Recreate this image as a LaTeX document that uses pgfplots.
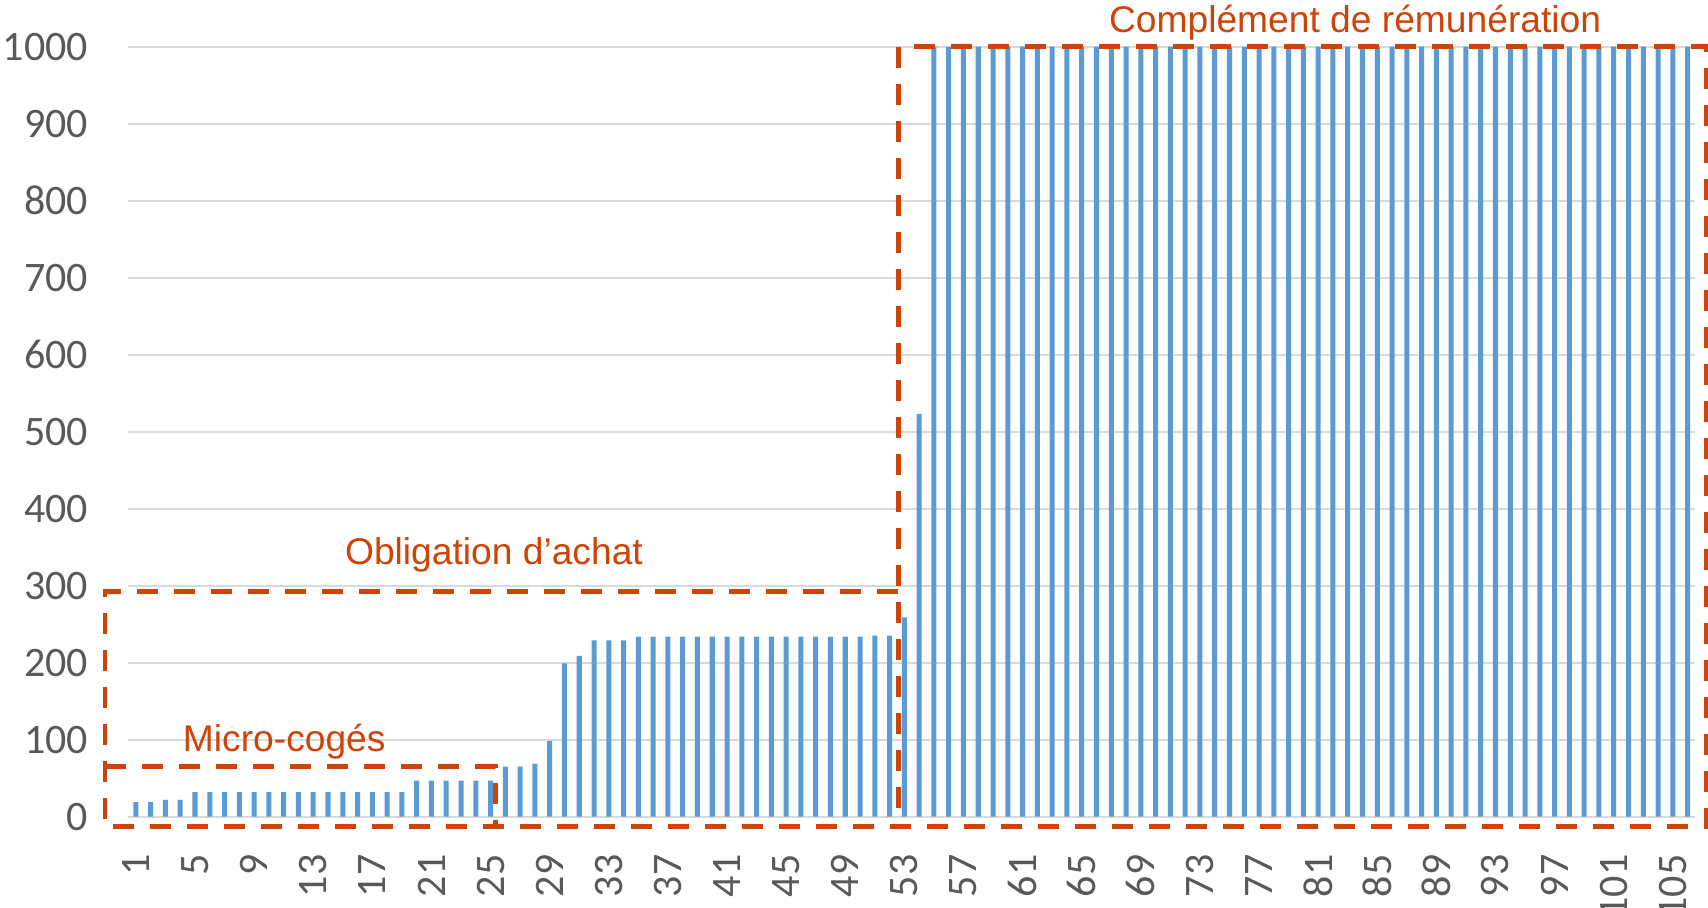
\documentclass[border=0pt]{standalone}
\usepackage{fontspec}
\setmainfont{Carlito}
\newfontfamily\arialf{Liberation Sans}
\usepackage{pgfplots}
\pgfplotsset{compat=1.18}
\definecolor{cBar}{HTML}{5B9BD5}
\definecolor{cRed}{HTML}{CC4408}
\definecolor{cTick}{HTML}{595959}
\definecolor{cGrid}{HTML}{D9D9D9}
\begin{document}
\begin{tikzpicture}
\begin{axis}[
    at={(64.25pt,45.65pt)}, anchor=south west,
    scale only axis, width=783.25pt, height=385pt,
    xmin=0.5, xmax=106.5, ymin=0, ymax=1000,
    clip=false,
    axis line style={draw=none}, tick style={draw=none},
    ymajorgrids, grid style={cGrid, line width=1.1pt},
    ytick={0,100,...,1000},
    xtick={1,5,...,105},
    ticklabel style={font=\fontsize{21}{24}\selectfont, text=cTick, inner sep=0pt,
        /pgf/number format/assume math mode=true},
    yticklabel style={/pgf/number format/1000 sep={}},
    xticklabel style={rotate=90, anchor=east},
    xticklabel shift=14.5pt, yticklabel shift=20pt,
    ybar, bar width=0.34,
]
\addplot[fill=cBar, draw=none] coordinates {
(1,19) (2,19) (3,22) (4,22)
(5,32) (6,32) (7,32) (8,32) (9,32) (10,32) (11,32) (12,32) (13,32) (14,32)
(15,32) (16,32) (17,32) (18,32) (19,32)
(20,47) (21,47) (22,47) (23,47) (24,47) (25,47)
(26,65) (27,65) (28,69) (29,98) (30,199) (31,209) (32,229) (33,229) (34,229)
(35,234) (36,234) (37,234) (38,234) (39,234) (40,234) (41,234) (42,234)
(43,234) (44,234) (45,234) (46,234) (47,234) (48,234) (49,234) (50,234)
(51,235) (52,235) (53,259) (54,523)
(55,1000) (56,1000) (57,1000) (58,1000) (59,1000) (60,1000) (61,1000) (62,1000)
(63,1000) (64,1000) (65,1000) (66,1000) (67,1000) (68,1000) (69,1000) (70,1000)
(71,1000) (72,1000) (73,1000) (74,1000) (75,1000) (76,1000) (77,1000) (78,1000)
(79,1000) (80,1000) (81,1000) (82,1000) (83,1000) (84,1000) (85,1000) (86,1000)
(87,1000) (88,1000) (89,1000) (90,1000) (91,1000) (92,1000) (93,1000) (94,1000)
(95,1000) (96,1000) (97,1000) (98,1000) (99,1000) (100,1000) (101,1000) (102,1000)
(103,1000) (104,1000) (105,1000) (106,1000)
};
% dashed regions (shared edges drawn once)
\begin{scope}[cRed, line width=2.4pt, dash pattern=on 10.5pt off 8pt]
\draw (axis cs:52.58,1000) -- (axis cs:52.58,-13);
\draw (axis cs:52.58,292) -- (axis cs:-1.09,292) -- (axis cs:-1.09,-13)
      -- (axis cs:107.28,-13) -- (axis cs:107.28,1000) -- (axis cs:52.58,1000);
\draw (axis cs:-1.09,65) -- (axis cs:25.36,65) -- (axis cs:25.36,-13);
\end{scope}
\begin{scope}[font=\arialf\fontsize{18.6}{21}\selectfont, text=cRed, inner sep=0pt]
\node[anchor=base] at (axis cs:83.5,1019) {Complément de rémunération};
\node[anchor=base] at (axis cs:25.23,328) {Obligation d’achat};
\node[anchor=base] at (axis cs:11.04,84.4) {Micro-cogés};
\end{scope}
\end{axis}
\pgfresetboundingbox
\useasboundingbox (0,0) rectangle (854pt,454pt);
\end{tikzpicture}
\end{document}
